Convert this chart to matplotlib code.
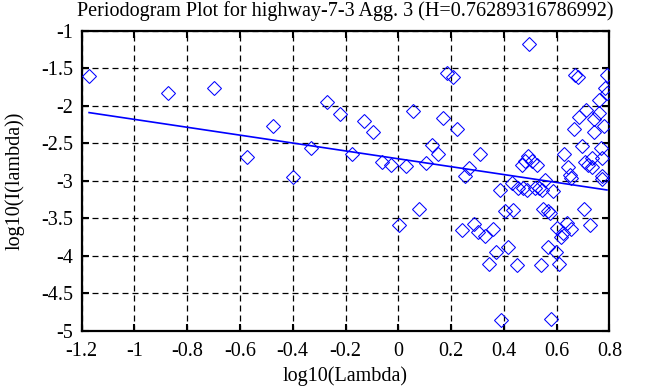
import numpy as np
import matplotlib
matplotlib.use('Agg')
import matplotlib.pyplot as plt

# --------------------------- style ---------------------------
plt.rcParams['font.family'] = 'Liberation Serif'
plt.rcParams['axes.unicode_minus'] = False

# --------------------------- data ---------------------------
hurst = 0.76289316786992
intercept = -2.705

log_lambda = [
    -1.172, -0.873, -0.697, -0.572, -0.476, -0.398, -0.331, -0.270, -0.220, -0.175,
    -0.131, -0.096, -0.063, -0.028, 0.002, 0.028, 0.056, 0.080, 0.105, 0.128,
    0.150, 0.168, 0.184, 0.206, 0.223, 0.242, 0.254, 0.269, 0.288, 0.301,
    0.310, 0.330, 0.344, 0.360, 0.370, 0.385, 0.390, 0.405, 0.415, 0.430,
    0.436, 0.449, 0.455, 0.468, 0.474, 0.480, 0.487, 0.493, 0.497, 0.508,
    0.520, 0.527, 0.532, 0.541, 0.545, 0.550, 0.558, 0.566, 0.569, 0.575,
    0.579, 0.588, 0.598, 0.600, 0.610, 0.617, 0.626, 0.627, 0.638, 0.645,
    0.651, 0.655, 0.655, 0.667, 0.670, 0.680, 0.684, 0.695, 0.705, 0.707,
    0.711, 0.720, 0.727, 0.733, 0.733, 0.743, 0.743, 0.760, 0.761, 0.769,
    0.771, 0.771, 0.774, 0.779, 0.784, 0.790, 0.791,
]
log_I = [
    -1.600, -1.825, -1.767, -2.687, -2.270, -2.945, -2.567, -1.945, -2.105, -2.647,
    -2.200, -2.350, -2.745, -2.790, -3.589, -2.800, -2.065, -3.380, -2.760, -2.520,
    -2.635, -2.158, -1.567, -1.620, -2.313, -3.656, -2.940, -2.825, -3.576, -3.687,
    -2.640, -3.730, -4.105, -3.647, -3.945, -3.127, -4.853, -3.400, -3.878, -3.033,
    -3.390, -4.123, -3.100, -2.790, -3.100, -2.730, -3.123, -2.670, -1.167, -2.730,
    -3.100, -2.790, -3.090, -4.123, -3.120, -3.376, -2.985, -3.878, -3.400, -3.430,
    -4.847, -3.130, -3.953, -3.633, -4.113, -3.745, -3.700, -2.647, -3.567, -2.810,
    -2.923, -3.647, -2.967, -2.313, -1.590, -1.612, -2.153, -2.536, -3.380, -2.745,
    -2.056, -2.790, -3.590, -2.810, -2.700, -2.180, -2.345, -2.092, -1.923, -2.567,
    -2.936, -2.976, -2.690, -2.270, -1.767, -1.590, -1.825,
]

xticks = [-1.2, -1, -0.8, -0.6, -0.4, -0.2, 0, 0.2, 0.4, 0.6, 0.8]
xtick_labels = ['-1.2', '-1', '-0.8', '-0.6', '-0.4', '-0.2', '0', '0.2', '0.4', '0.6', '0.8']
yticks = [-1, -1.5, -2, -2.5, -3, -3.5, -4, -4.5, -5]
ytick_labels = ['-1', '-1.5', '-2', '-2.5', '-3', '-3.5', '-4', '-4.5', '-5']

# --------------------------- fit line ---------------------------
slope = 1.0 - 2.0 * hurst
x_fit = np.array([min(log_lambda), max(log_lambda)])
y_fit = intercept + slope * x_fit

# --------------------------- plotting ---------------------------
fs = 14.5
fig = plt.figure(figsize=(6.53, 3.87), dpi=100)
ax_l, ax_b, ax_w, ax_h = 0.1251, 0.1452, 0.808, 0.7747
ax = fig.add_axes([ax_l, ax_b, ax_w, ax_h])

ax.plot(log_lambda, log_I, linestyle='none', marker='D', markersize=7.0,
        markerfacecolor='none', markeredgecolor='#0000ff', markeredgewidth=0.75,
        zorder=3)
ax.plot(x_fit, y_fit, color='#0000ff', lw=1.2, zorder=4)

ax.set_xlim(-1.2, 0.8)
ax.set_ylim(-5, -1)
ax.set_xticks(xticks)
ax.set_xticklabels(xtick_labels)
ax.set_yticks(yticks)
ax.set_yticklabels(ytick_labels)

ax.grid(True, color='black', lw=0.9, linestyle=(0, (4.8, 3.2)))
ax.set_axisbelow(True)
for sp in ax.spines.values():
    sp.set_linewidth(1.6)
ax.tick_params(direction='in', length=5, width=1.5, labelsize=fs,
               top=True, right=True)
ax.tick_params(axis='x', pad=8)
ax.tick_params(axis='y', pad=6)

# title and axis labels placed like gnuplot output
xc = ax_l + ax_w / 2
fig.text(xc, 1 - 11 / 387, 'Periodogram Plot for highway-7-3 Agg. 3 (H=0.76289316786992)',
         fontsize=fs, ha='center', va='center')
fig.text(xc, 1 - 376 / 387, 'log10(Lambda)', fontsize=fs, ha='center', va='center')
fig.text(15 / 653, ax_b + ax_h / 2, 'log10(I(lambda))', fontsize=fs,
         ha='center', va='center', rotation=90)

plt.savefig('out.png', dpi=100)
